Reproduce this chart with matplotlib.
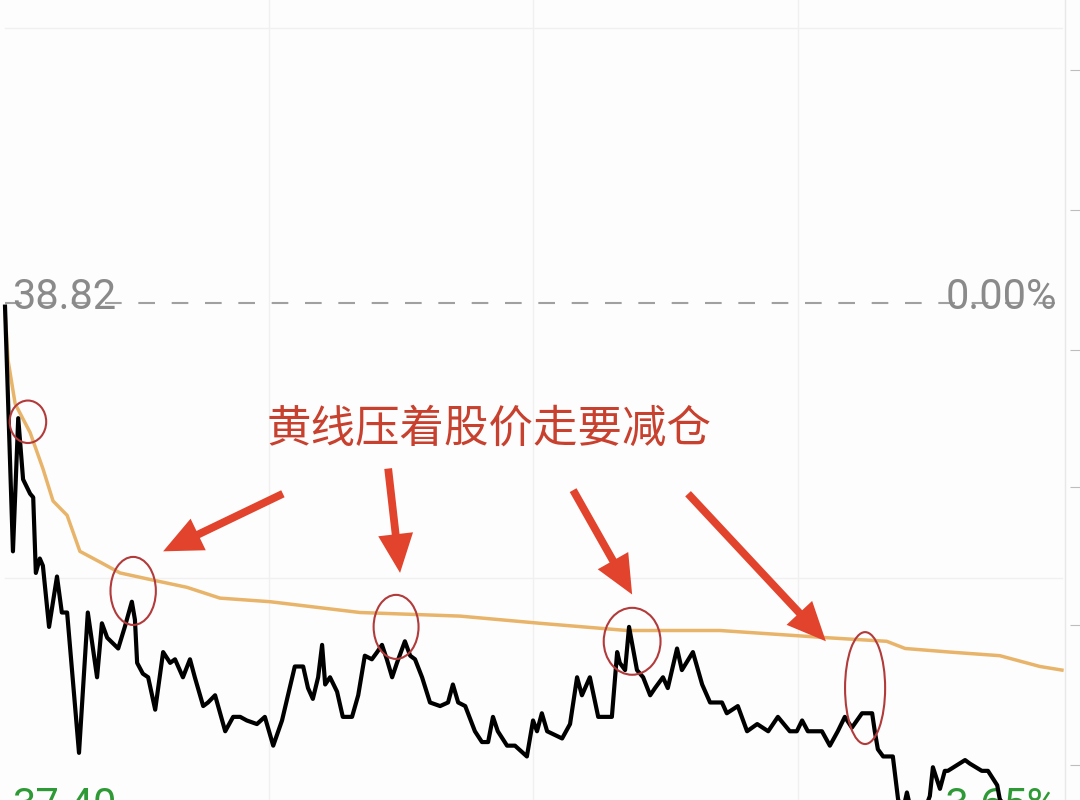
import matplotlib.pyplot as plt
from matplotlib.patches import Ellipse

plt.rcParams['font.family'] = ['Roboto', 'Noto Sans CJK SC', 'DejaVu Sans']

# intraday price (minute since open, price)
minutes = [0.0, 1.8, 3.0, 4.1, 5.7, 6.4, 7.0, 7.9, 8.6, 10.0, 11.8, 12.9, 14.1, 16.8,
           18.8, 20.9, 22.0, 23.2, 25.7, 27.2, 28.8, 29.5, 30.0, 31.3, 32.5, 34.1,
           35.9, 37.5, 38.6, 40.4, 42.0, 43.1, 45.0, 46.1, 47.7, 50.0, 51.8, 53.4,
           54.9, 57.2, 59.0, 60.9, 62.9, 65.8, 67.7, 68.8, 69.9, 71.1, 72.0, 72.7,
           73.8, 75.4, 76.7, 78.8, 80.2, 81.7, 83.3, 84.5, 85.6, 86.7, 87.9, 89.0,
           90.8, 92.0, 93.1, 94.7, 96.5, 98.8, 100.6, 101.7, 102.9, 104.5, 106.7,
           108.3, 109.7, 110.8, 111.9, 114.0, 115.8, 118.5, 119.9, 120.8, 121.9,
           123.1, 126.5, 128.3, 129.9, 131.0, 132.8, 134.7, 137.8, 139.0, 139.6,
           140.8, 141.7, 143.5, 144.9, 146.5, 147.6, 149.4, 150.5, 152.6, 153.7,
           156.2, 158.3, 160.1, 161.7, 162.8, 163.9, 166.4, 168.5, 170.8, 173.3,
           175.5, 178.2, 179.8, 181.0, 182.3, 185.5, 187.3, 189.1, 190.7, 192.3,
           194.6, 196.9, 197.5, 198.2, 199.4, 201.6, 202.8, 203.9, 204.8, 205.9,
           208.8, 210.0, 210.7, 212.3, 213.4, 214.1, 218.0, 219.1, 221.8, 223.2,
           225.3, 225.9, 228.2, 232.7, 240.0]
price = [38.81, 38.13, 38.50, 38.33, 38.29, 38.28, 38.07, 38.11, 38.09, 37.92, 38.06,
         37.96, 37.96, 37.57, 37.96, 37.78, 37.93, 37.89, 37.86, 37.92, 37.99, 37.94,
         37.82, 37.79, 37.78, 37.69, 37.85, 37.82, 37.83, 37.78, 37.83, 37.78, 37.70,
         37.71, 37.73, 37.63, 37.67, 37.67, 37.66, 37.65, 37.67, 37.59, 37.66, 37.81,
         37.81, 37.75, 37.72, 37.78, 37.87, 37.76, 37.78, 37.74, 37.67, 37.67, 37.73,
         37.84, 37.83, 37.85, 37.87, 37.83, 37.78, 37.82, 37.88, 37.84, 37.83, 37.78,
         37.71, 37.70, 37.71, 37.76, 37.71, 37.70, 37.63, 37.60, 37.60, 37.67, 37.63,
         37.59, 37.59, 37.56, 37.66, 37.63, 37.68, 37.63, 37.61, 37.65, 37.78, 37.73,
         37.78, 37.67, 37.67, 37.85, 37.82, 37.80, 37.92, 37.80, 37.78, 37.73, 37.75,
         37.78, 37.75, 37.86, 37.80, 37.85, 37.76, 37.71, 37.71, 37.71, 37.68, 37.70,
         37.63, 37.65, 37.63, 37.67, 37.63, 37.63, 37.66, 37.63, 37.63, 37.59, 37.63,
         37.67, 37.64, 37.68, 37.68, 37.63, 37.58, 37.56, 37.56, 37.44, 37.41, 37.46,
         37.40, 37.41, 37.45, 37.53, 37.47, 37.52, 37.52, 37.55, 37.54, 37.52, 37.52,
         37.48, 37.44, 37.41, 37.42, 37.41]

# average price (yellow line)
avg_minutes = [0.0, 0.7, 2.3, 5.7, 8.6, 10.9, 14.1, 17.0, 21.6, 26.1, 33.6, 41.3, 48.8,
               60.2, 80.6, 103.3, 121.5, 141.2, 162.3, 186.6, 200.2, 204.4, 214.6,
               225.9, 235.0, 240.0]
avg_price = [38.80, 38.66, 38.54, 38.46, 38.36, 38.27, 38.23, 38.13, 38.10, 38.07, 38.05,
             38.03, 38.00, 37.99, 37.96, 37.95, 37.93, 37.91, 37.91, 37.89, 37.88, 37.86,
             37.85, 37.84, 37.81, 37.80]

prev_close = 38.82
note = "黄线压着股价走要减仓"

# circled spots: (minute, price, width, height)
circles = [(5.2, 38.49, 8.3, 0.118), (29.1, 38.02, 10.3, 0.189),
           (88.8, 37.92, 10.2, 0.178), (142.4, 37.88, 12.9, 0.186),
           (195.3, 37.75, 9.1, 0.311)]
# arrows: (tail, head)
arrows = [((63.1, 38.29), (35.9, 38.13)), ((87.0, 38.36), (89.7, 38.07)),
          ((129.0, 38.30), (142.4, 38.01)), ((155.1, 38.29), (186.4, 37.88))]

fig = plt.figure(figsize=(10.8, 8), dpi=100)
fig.patch.set_facecolor('#fdfdfd')
ax = fig.add_axes([0, 0, 1, 1])
ax.set_facecolor('#fdfdfd')
ax.set_xlim(-1.14, 244.1)
ax.set_ylim(37.439, 39.662)
for s in ax.spines.values():
    s.set_visible(False)
ax.set_xticks([])
ax.yaxis.tick_right()
ax.set_yticks([39.467, 39.078, 38.689, 38.309, 37.926, 37.537])
ax.tick_params(axis='y', direction='in', length=7, color='#bdbdbd', labelright=False)

# faint grid
for t in [60, 120, 180]:
    ax.axvline(t, color='#f0f0f0', lw=1, zorder=0)
for g in [prev_close + 0.764, prev_close - 0.764]:
    ax.plot([0, 240], [g, g], color='#f0f0f0', lw=1, zorder=0)
ax.axvline(240.7, color='#e8e8e8', lw=1, zorder=0)

ax.plot([0, 240], [prev_close, prev_close], color='#a0a0a0', lw=1.5,
        dashes=(8, 8), zorder=1)

ytr = ax.get_yaxis_transform()
ax.text(0.011, 38.835, "38.82", transform=ytr, color='#8a8a8a',
        fontsize=30, va='center', ha='left', zorder=1)
ax.text(0.979, 38.835, "0.00%", transform=ytr, color='#8a8a8a',
        fontsize=30, va='center', ha='right', zorder=1)
ax.text(0.011, 37.42, "37.40", transform=ytr, color='#2e9a36',
        fontsize=30, va='center', ha='left', zorder=1)
ax.text(0.979, 37.42, "-3.65%", transform=ytr, color='#2e9a36',
        fontsize=30, va='center', ha='right', zorder=1)

ax.plot(avg_minutes, avg_price, color='#e8b46a', lw=2.5, zorder=2)
ax.plot(minutes, price, color='black', lw=3.0, zorder=3, solid_joinstyle='round')

for cx, cy, w, h in circles:
    ax.add_patch(Ellipse((cx, cy), w, h, fill=False, ec='#b23a3a', lw=1.5, zorder=4))

for tail, head in arrows:
    ax.annotate('', xy=head, xytext=tail, zorder=4,
                arrowprops=dict(arrowstyle='simple,head_width=1.8,head_length=2.0,tail_width=0.4',
                                mutation_scale=14, color='#e2432c', lw=0,
                                shrinkA=0, shrinkB=0))

ax.text(109.9, 38.47, note, color='#c8402e', fontsize=32, ha='center', va='center',
        family=['Noto Sans CJK SC', 'DejaVu Sans'], zorder=5)

fig.savefig('out.png', dpi=100, facecolor=fig.get_facecolor())
